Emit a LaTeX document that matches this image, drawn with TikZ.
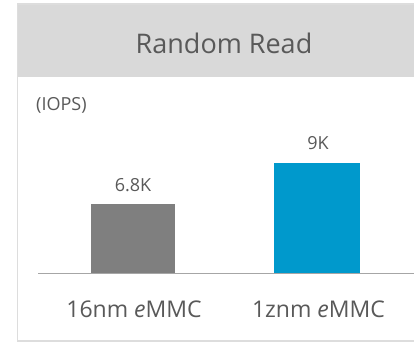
\documentclass[tikz,border=0pt]{standalone}
\usepackage{fontspec}
\setmainfont{Open Sans}
\definecolor{frame}{HTML}{DDDDDD}
\definecolor{head}{HTML}{D9D9D9}
\definecolor{ink}{HTML}{595959}
\definecolor{axisgray}{HTML}{A6A6A6}
\definecolor{oldbar}{HTML}{7F7F7F}
\definecolor{newbar}{HTML}{0099CC}
\begin{document}
\begin{tikzpicture}[x=1pt,y=-1pt,
  lbl/.style={text=ink,inner sep=0pt,anchor=base},
  title/.style={lbl,font=\fontsize{27}{30}\selectfont},
  unit/.style={lbl,anchor=base west,font=\fontsize{18}{20}\selectfont},
  value/.style={lbl,font=\fontsize{18}{20}\selectfont},
  category/.style={lbl,font=\fontsize{23}{26}\selectfont}]
\useasboundingbox (0,0) rectangle (414,345);
% panel with grey header
\fill[white] (17.5,4) rectangle (440,341);
\fill[head] (17.5,4) rectangle (440,77);
\draw[frame,line width=1.5pt] (440,341) -- (17.5,341) -- (17.5,4) -- (440,4);
\node[title] (ttl) at (224,53) {Random Read};
\node[unit] (iops) at (36,110) {(IOPS)};
% bars on the axis
\fill[oldbar] (91,204) rectangle (175,273);
\fill[newbar] (274,163) rectangle (360,273);
\coordinate (axl) at (38,273);
\coordinate (axr) at (440,273);
\draw[axisgray,line width=1pt] (axl) -- (axr);
\node[value] (v1) at (133,191) {6.8K};
\node[value] (v2) at (318,149) {9K};
\node[category] (c1) at (134,317) {16nm \textit{e}MMC};
\node[category] (c2) at (318.5,317) {1znm \textit{e}MMC};
\end{tikzpicture}
\end{document}
